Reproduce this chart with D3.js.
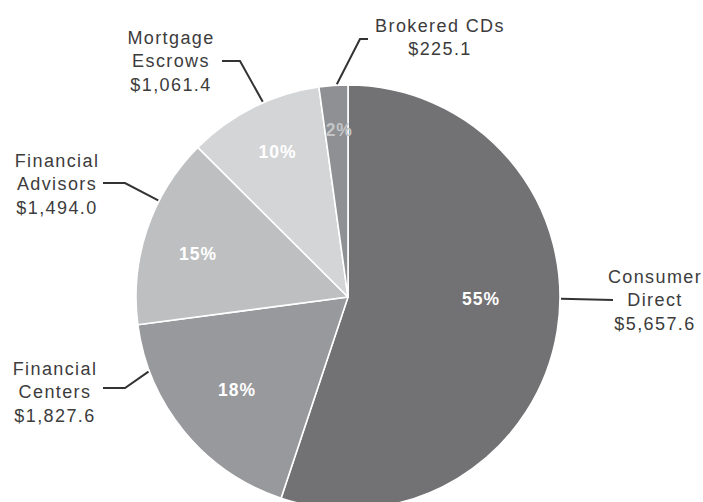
<!DOCTYPE html>
<html>
<head>
<meta charset="utf-8">
<script src="https://cdn.jsdelivr.net/npm/d3@7/dist/d3.min.js"></script>
<style>
  html, body { margin: 0; padding: 0; background: #ffffff; }
  svg { display: block; }
  text { font-family: "Liberation Sans", Arial, Helvetica, sans-serif; }
</style>
</head>
<body>
<svg id="chart" width="703" height="502"></svg>
<script>
// ---- data ----
const categories = ["Consumer Direct", "Financial Centers", "Financial Advisors", "Mortgage Escrows", "Brokered CDs"];
const labelLines = [["Consumer", "Direct"], ["Financial", "Centers"], ["Financial", "Advisors"], ["Mortgage", "Escrows"], ["Brokered CDs"]];
const values = [5657.6, 1827.6, 1494.0, 1061.4, 225.1];
const valueLabels = ["$5,657.6", "$1,827.6", "$1,494.0", "$1,061.4", "$225.1"];
const percentLabels = ["55%", "18%", "15%", "10%", "2%"];

// ---- layout / style (not data) ----
const W = 703, H = 502;
const cx = 348, cy = 297, R = 212;
const fills = ["#727275", "#98999c", "#bebfc1", "#d4d5d7", "#8f9093"];
const pctColors = ["#ffffff", "#ffffff", "#ffffff", "#ffffff", "#c4c5c8"];
// percent label polar placement (degrees clockwise from top, radius)
const pctPolar = [[91, 133], [230, 145], [286, 156], [334, 161], [357, 167]];
// callout layout: anchor angle on rim, elbow, line end, text centre x, first baseline y
const callouts = [
  { a: 90.5, elbow: null,       end: [613, 300], tx: 655, ty: 283 },
  { a: 249.5, elbow: [125, 388], end: [103, 388], tx: 55,  ty: 375 },
  { a: 297,  elbow: [125, 183],  end: [103, 183], tx: 57,  ty: 167 },
  { a: 336.4, elbow: [240, 61],  end: [222, 61],  tx: 171, ty: 44 },
  { a: 357,  elbow: [360, 39],   end: [368, 39],  tx: 440, ty: 32 }
];
const lineH = 23.3;

const svg = d3.select("#chart");
const g = svg.append("g").attr("transform", `translate(${cx},${cy})`);

const pie = d3.pie().sort(null).value(d => d.value);
const arcs = pie(categories.map((c, i) => ({ name: c, value: values[i], i })));
const arc = d3.arc().innerRadius(0).outerRadius(R);

g.selectAll("path.slice")
  .data(arcs)
  .join("path")
  .attr("class", "slice")
  .attr("d", arc)
  .attr("fill", d => fills[d.data.i])
  .attr("stroke", "#ffffff")
  .attr("stroke-width", 1.6)
  .attr("stroke-linejoin", "round");

const polar = (deg, r) => {
  const t = deg * Math.PI / 180;
  return [r * Math.sin(t), -r * Math.cos(t)];
};

// percent labels
g.selectAll("text.pct")
  .data(arcs)
  .join("text")
  .attr("class", "pct")
  .attr("x", d => polar(...pctPolar[d.data.i])[0])
  .attr("y", d => polar(...pctPolar[d.data.i])[1])
  .attr("dy", "0.35em")
  .attr("text-anchor", "middle")
  .attr("font-size", 17.5)
  .attr("font-weight", "bold")
  .attr("letter-spacing", 1)
  .attr("fill", d => pctColors[d.data.i])
  .text(d => percentLabels[d.data.i]);

// leader lines
const line = d3.line();
arcs.forEach(d => {
  const c = callouts[d.data.i];
  const p0 = polar(c.a, R + 1);
  const pts = [[p0[0] + cx, p0[1] + cy]];
  if (c.elbow) pts.push(c.elbow);
  pts.push(c.end);
  svg.append("path")
    .attr("d", line(pts))
    .attr("fill", "none")
    .attr("stroke", "#333333")
    .attr("stroke-width", 2);
});

// category labels
arcs.forEach(d => {
  const i = d.data.i;
  const c = callouts[i];
  const lines = labelLines[i].concat([valueLabels[i]]);
  const t = svg.append("text")
    .attr("text-anchor", "middle")
    .attr("font-size", 18)
    .attr("letter-spacing", 1.4)
    .attr("fill", "#3c3c3c");
  lines.forEach((s, k) => {
    t.append("tspan").attr("x", c.tx).attr("y", c.ty + k * lineH).text(s);
  });
});
</script>
</body>
</html>
